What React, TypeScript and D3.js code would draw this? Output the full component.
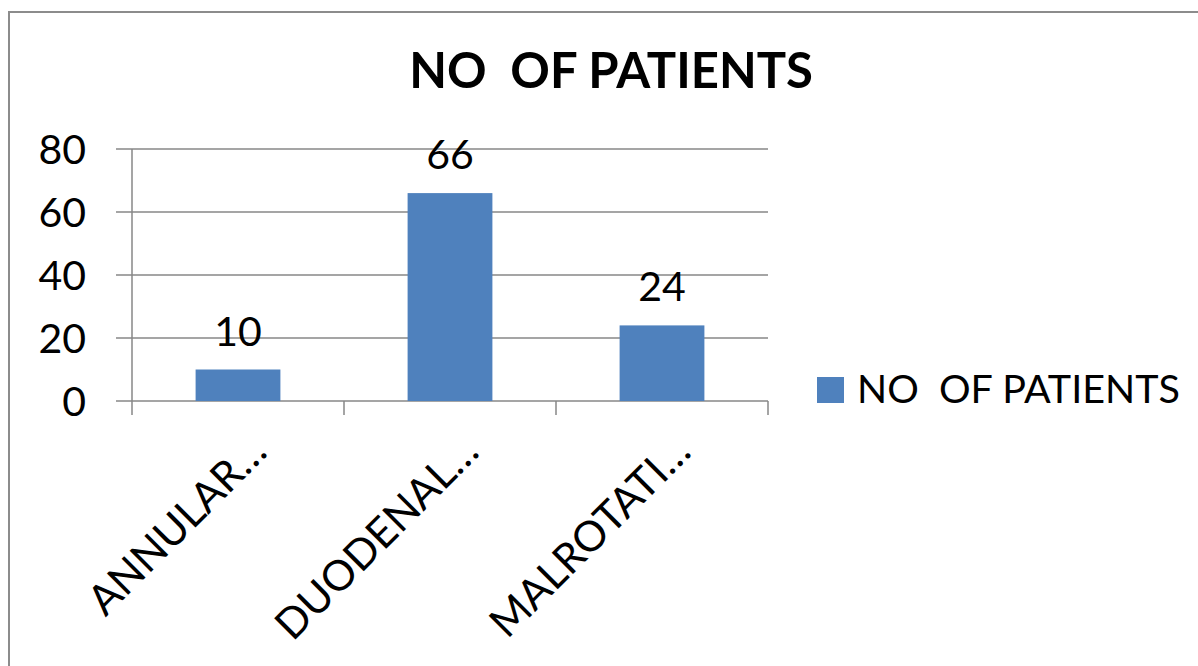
import React, { useEffect, useRef } from "react";
import * as d3 from "d3";

const categories = ["ANNULAR…", "DUODENAL…", "MALROTATI…"];
const patients = [10, 66, 24];
const yTicks = [0, 20, 40, 60, 80];
const seriesName = "NO  OF PATIENTS";
const chartTitle = "NO  OF PATIENTS";

function App() {
  const ref = useRef<SVGSVGElement>(null);

  useEffect(() => {
    const svg = d3.select(ref.current);
    svg.selectAll("*").remove();

    const width = 1198;
    const height = 666;
    const font = "Lato, 'Open Sans', sans-serif";
    const grid = "#878787";
    const barColor = "#4F81BD";
    const margin = { left: 132, right: 430, top: 149, bottom: 265 };

    // outer frame (right/bottom edges fall outside the picture)
    svg.append("rect")
      .attr("x", 9).attr("y", 12)
      .attr("width", width + 20).attr("height", height + 20)
      .attr("fill", "#fff")
      .attr("stroke", "#8c8c8c").attr("stroke-width", 2);

    const x = d3.scaleBand<string>()
      .domain(categories)
      .range([margin.left, width - margin.right])
      .paddingInner(0.6).paddingOuter(0.3);

    const y = d3.scaleLinear()
      .domain([0, 80])
      .range([height - margin.bottom, margin.top]);

    const band = (width - margin.right - margin.left) / categories.length;

    // gridlines + y ticks
    svg.append("g")
      .selectAll("line")
      .data(yTicks)
      .join("line")
      .attr("x1", margin.left - 16)
      .attr("x2", width - margin.right)
      .attr("y1", d => y(d))
      .attr("y2", d => y(d))
      .attr("stroke", grid).attr("stroke-width", 1.5);

    svg.append("g")
      .selectAll("text")
      .data(yTicks)
      .join("text")
      .attr("x", 86)
      .attr("y", d => y(d))
      .attr("dy", "0.36em")
      .attr("text-anchor", "end")
      .attr("font-family", font)
      .attr("font-size", 41)
      .text(d => d);

    // y axis line
    svg.append("line")
      .attr("x1", margin.left).attr("x2", margin.left)
      .attr("y1", margin.top).attr("y2", y(0) + 14)
      .attr("stroke", grid).attr("stroke-width", 1.5);

    // category ticks
    svg.append("g")
      .selectAll("line")
      .data(categories)
      .join("line")
      .attr("x1", (d, i) => margin.left + band * (i + 1))
      .attr("x2", (d, i) => margin.left + band * (i + 1))
      .attr("y1", y(0)).attr("y2", y(0) + 14)
      .attr("stroke", grid).attr("stroke-width", 1.5);

    // bars
    svg.selectAll("rect.bar")
      .data(patients)
      .join("rect")
      .attr("class", "bar")
      .attr("x", (d, i) => x(categories[i]))
      .attr("width", x.bandwidth())
      .attr("y", d => y(d))
      .attr("height", d => y(0) - y(d))
      .attr("fill", barColor);

    // value labels
    svg.selectAll("text.value")
      .data(patients)
      .join("text")
      .attr("class", "value")
      .attr("x", (d, i) => x(categories[i]) + x.bandwidth() / 2)
      .attr("y", d => y(d) - 24)
      .attr("text-anchor", "middle")
      .attr("font-family", font)
      .attr("font-size", 41)
      .text(d => d);

    // rotated category labels
    svg.selectAll("text.cat")
      .data(categories)
      .join("text")
      .attr("class", "cat")
      .attr("text-anchor", "end")
      .attr("font-family", font)
      .attr("font-size", 42)
      .attr("transform", d => `translate(${x(d) + x.bandwidth() / 2 + 31}, 454) rotate(-45)`)
      .text(d => d);

    // title
    svg.append("text")
      .attr("x", 611).attr("y", 88)
      .attr("text-anchor", "middle")
      .attr("font-family", font)
      .attr("font-weight", "bold")
      .attr("font-size", 49)
      .style("white-space", "pre")
      .text(chartTitle);

    // legend
    const legend = svg.append("g").attr("transform", "translate(817, 377)");
    legend.append("rect")
      .attr("width", 27).attr("height", 26)
      .attr("fill", barColor);
    legend.append("text")
      .attr("x", 40).attr("y", 26)
      .attr("font-family", font)
      .attr("font-size", 39.5)
      .style("white-space", "pre")
      .text(seriesName);
  }, []);

  return (
    <svg ref={ref} width={1198} height={666}
      style={{ position: "absolute", left: 0, top: 0, background: "#fff" }} />
  );
}

export default App;
